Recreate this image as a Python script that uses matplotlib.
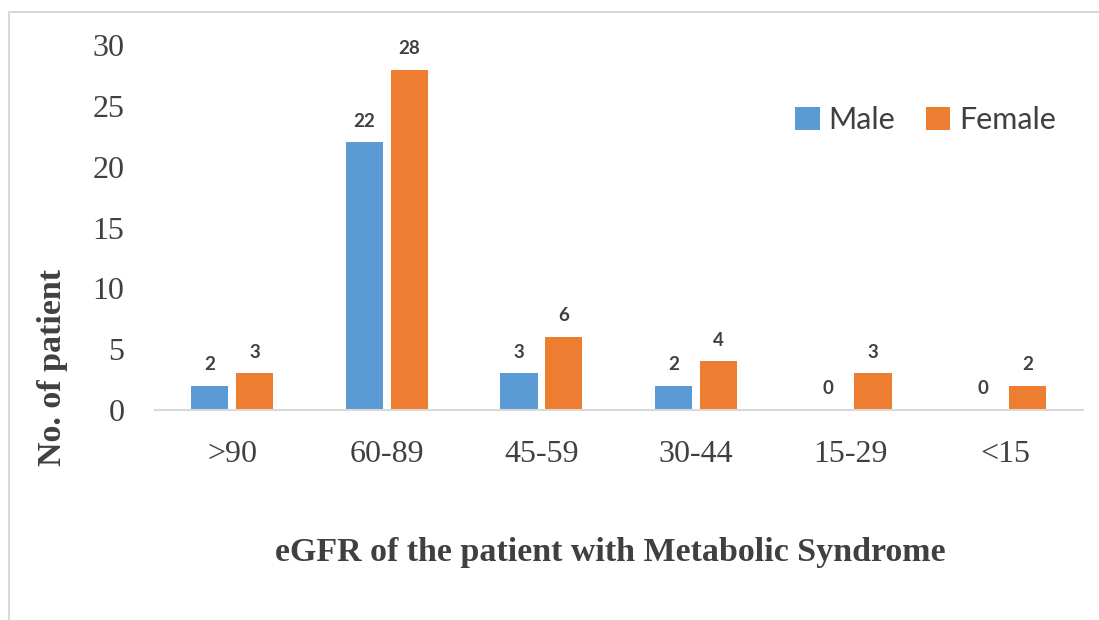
import matplotlib
matplotlib.use("Agg")
import matplotlib.pyplot as plt
import numpy as np
from matplotlib.lines import Line2D

# 데이터
categories = [">90", "60-89", "45-59", "30-44", "15-29", "<15"]
male = [2, 22, 3, 2, 0, 0]
female = [3, 28, 6, 4, 3, 2]

male_color = "#5B9BD5"
female_color = "#ED7D31"
text_color = "#404040"

fig = plt.figure(figsize=(10.99, 6.2), dpi=100)
ax = fig.add_axes([0.141, 0.339, 0.844, 0.588])

x = np.arange(len(categories))
w = 0.24
gap = 0.05
b1 = ax.bar(x - (w + gap) / 2, male, w, color=male_color, label="Male")
b2 = ax.bar(x + (w + gap) / 2, female, w, color=female_color, label="Female")

# 막대 위 숫자
for bars in (b1, b2):
    for rect in bars:
        h = rect.get_height()
        ax.annotate(str(int(h)), (rect.get_x() + rect.get_width() / 2, h),
                    xytext=(0, 9), textcoords="offset points",
                    ha="center", va="bottom", fontsize=13.5, fontweight="bold",
                    family="Lato", color=text_color)

ax.set_xlim(-0.5, len(categories) - 0.5)
ax.set_ylim(0, 30)
ax.set_yticks(range(0, 31, 5))
ax.set_xticks(x)
ax.set_xticklabels(categories)

for s in ["top", "right", "left"]:
    ax.spines[s].set_visible(False)
ax.spines["bottom"].set_color("#D9D9D9")
ax.spines["bottom"].set_linewidth(1.5)

ax.tick_params(axis="both", length=0, labelsize=23, labelcolor=text_color)
ax.tick_params(axis="x", pad=22)
ax.tick_params(axis="y", pad=22)
for lab in ax.get_xticklabels() + ax.get_yticklabels():
    lab.set_family("Liberation Serif")

# 축 이름
fig.text(52 / 1099, 1 - 368 / 620, "No. of patient", rotation=90,
         family="Liberation Serif", fontweight="bold", fontsize=24.5,
         color=text_color, ha="center", va="center")
fig.text(610 / 1099, 1 - 553 / 620, "eGFR of the patient with Metabolic Syndrome",
         family="Liberation Serif", fontweight="bold", fontsize=24.5,
         color=text_color, ha="center", va="center")

leg = ax.legend(loc="center right", bbox_to_anchor=(0.995, 0.795), ncol=2,
                frameon=False, prop={"family": "Lato", "size": 22},
                handlelength=0.8, handleheight=0.8, columnspacing=1.0,
                handletextpad=0.3, borderpad=0.2)
for t in leg.get_texts():
    t.set_color(text_color)

# 바깥 테두리
fig.add_artist(Line2D([9 / 1099, 9 / 1099, 1.0], [0.0, 1 - 12 / 620, 1 - 12 / 620],
                      transform=fig.transFigure, color="#D9D9D9", lw=1.5))

fig.savefig("out.png", dpi=100)
